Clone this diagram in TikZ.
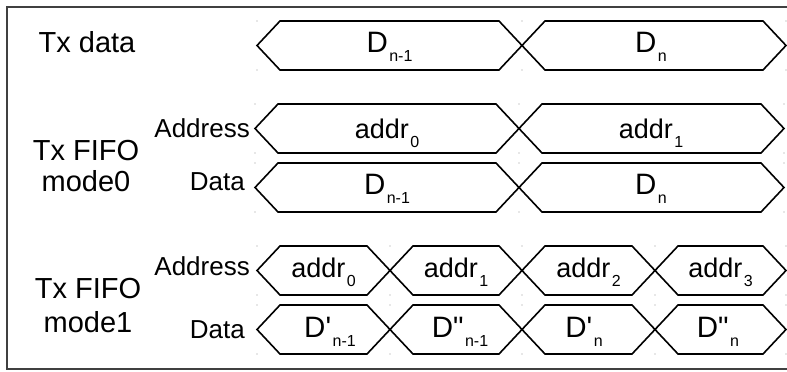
\documentclass[tikz,border=0pt]{standalone}
\usepackage{fontspec}
\setmainfont{Liberation Sans}
\newfontfamily\quotefont{Liberation Sans}
\newcommand{\lowsub}[1]{\kern1.5pt\raisebox{-9pt}{\fontsize{16}{16}\selectfont #1}}
\newcommand{\sq}{{\quotefont'}}
\newcommand{\dq}{{\quotefont"}}
\newcommand{\hexseg}[4]{%
  \draw[wave] (#1,{(#3+#4)/2}) -- ({#1+23},#3) -- ({#2-23},#3) -- (#2,{(#3+#4)/2})
    -- ({#2-23},#4) -- ({#1+23},#4) -- cycle;}
\newcommand{\gdots}[3]{%
  \fill[gdot] (#1,#2) circle (0.7);
  \fill[gdot] (#1,#3) circle (0.7);}
\begin{document}
\begin{tikzpicture}[x=1pt,y=-1pt,
  wave/.style={line width=1.6pt, line join=miter},
  gdot/.style={gray!80},
  big/.style={font=\fontsize{29}{31}\selectfont, inner sep=0pt, anchor=base},
  side/.style={font=\fontsize{26}{28}\selectfont, inner sep=0pt, anchor=base east},
  dtxt/.style={font=\fontsize{29.5}{31}\selectfont, inner sep=0pt, anchor=base},
  atxt/.style={font=\fontsize{27}{29}\selectfont, inner sep=0pt, anchor=base}]
\useasboundingbox (0,0) rectangle (787,372);
\draw[line width=1.5pt, black!75] (787,7) -- (7,7) -- (7,369) -- (787,369);

% grid dots
\foreach \x in {257,522,786} {\gdots{\x}{21}{70}}
\foreach \x in {255,519,784} {\gdots{\x}{104}{153}\gdots{\x}{163}{212}}
\foreach \x in {257,390,522,655,786} {\gdots{\x}{246}{295}\gdots{\x}{305}{354}}

% row 1: Tx data
\hexseg{257}{522}{21}{70}
\hexseg{522}{786}{21}{70}
% row 2: mode0 address
\hexseg{255}{519}{104}{153}
\hexseg{519}{784}{104}{153}
% row 3: mode0 data
\hexseg{255}{519}{163}{212}
\hexseg{519}{784}{163}{212}
% row 4: mode1 address
\hexseg{257}{390}{246}{295}
\hexseg{390}{522}{246}{295}
\hexseg{522}{655}{246}{295}
\hexseg{655}{786}{246}{295}
% row 5: mode1 data
\hexseg{257}{390}{305}{354}
\hexseg{390}{522}{305}{354}
\hexseg{522}{655}{305}{354}
\hexseg{655}{786}{305}{354}

% left labels
\node[big] (txdata) at (87,52) {Tx data};
\node[big] (fifo0) at (86,160.7) {Tx FIFO};
\node[big] (mode0) at (86,191.7) {mode0};
\node[big] (fifo1) at (88,298) {Tx FIFO};
\node[big] (mode1) at (88,332) {mode1};
\node[side] (addr0lbl) at (250,137) {Address};
\node[side] (data0lbl) at (245,190) {Data};
\node[side] (addr1lbl) at (250,275) {Address};
\node[side] (data1lbl) at (245,338) {Data};

% row 1 texts
\node[dtxt] (r1a) at (389.5,52.3) {D\lowsub{n-1}};
\node[dtxt] (r1b) at (651,52.3) {D\lowsub{n}};
% row 2 texts
\node[atxt] (r2a) at (387,138) {addr\lowsub{0}};
\node[atxt] (r2b) at (651,138) {addr\lowsub{1}};
% row 3 texts
\node[dtxt] (r3a) at (387,194.3) {D\lowsub{n-1}};
\node[dtxt] (r3b) at (651,194.3) {D\lowsub{n}};
% row 4 texts
\node[atxt] (r4a) at (323.5,277) {addr\lowsub{0}};
\node[atxt] (r4b) at (456,277) {addr\lowsub{1}};
\node[atxt] (r4c) at (588.5,277) {addr\lowsub{2}};
\node[atxt] (r4d) at (720.5,277) {addr\lowsub{3}};
% row 5 texts
\node[dtxt] (r5a) at (330,337) {D\sq\lowsub{n-1}};
\node[dtxt] (r5b) at (460,337) {D\dq\lowsub{n-1}};
\node[dtxt] (r5c) at (584,337) {D\sq\lowsub{n}};
\node[dtxt] (r5d) at (718,337) {D\dq\lowsub{n}};
\end{tikzpicture}
\end{document}
